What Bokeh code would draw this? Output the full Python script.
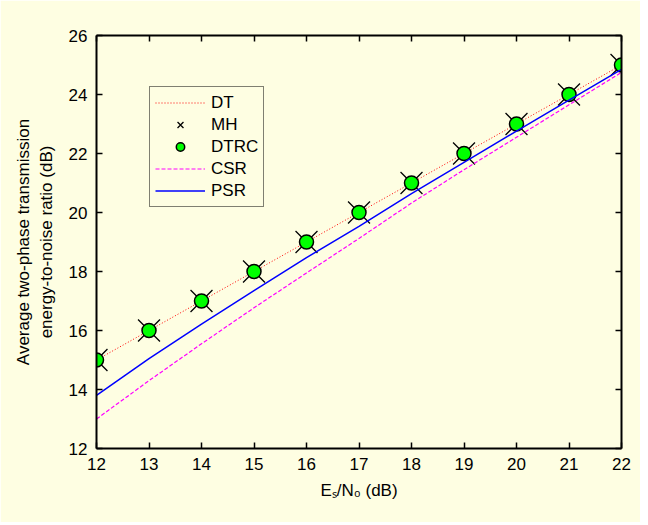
from bokeh.plotting import figure
from bokeh.models import Range1d, FixedTicker, LinearAxis, Legend, LegendItem
from bokeh.embed import file_html
from bokeh.resources import INLINE

# ---- data ----
es_n0_db = [12, 13, 14, 15, 16, 17, 18, 19, 20, 21, 22]
dt = [15, 16, 17, 18, 19, 20, 21, 22, 23, 24, 25]
mh = [15, 16, 17, 18, 19, 20, 21, 22, 23, 24, 25]
dtrc = [15, 16, 17, 18, 19, 20, 21, 22, 23, 24, 25]
csr = [13.0, 14.3, 15.55, 16.77, 17.95, 19.12, 20.32, 21.45, 22.55, 23.65, 24.75]
psr = [13.8, 15.05, 16.22, 17.35, 18.47, 19.53, 20.64, 21.70, 22.76, 23.81, 24.85]
x_ticks = [12, 13, 14, 15, 16, 17, 18, 19, 20, 21, 22]
y_ticks = [12, 14, 16, 18, 20, 22, 24, 26]

BG = "#FEFEE2"
FONT = "Liberation Sans"
FS = "17px"

p = figure(width=640, height=522, output_backend="svg", toolbar_location=None,
           x_range=Range1d(12, 22), y_range=Range1d(12, 26),
           min_border_left=96, min_border_right=19, min_border_top=35, min_border_bottom=74)
p.background_fill_color = BG
p.border_fill_color = BG
p.outline_line_color = None
p.grid.visible = False

# renderers
r_dt = p.line(es_n0_db, dt, line_color="#FF0000", line_width=1, line_dash="1 2")
r_mh = p.scatter(es_n0_db, mh, marker="x", size=31, line_color="black", line_width=1.3)
r_dtrc = p.scatter(es_n0_db, dtrc, marker="circle", size=14, fill_color="#00FF00",
                   line_color="black", line_width=1.5)
r_csr = p.line(es_n0_db, csr, line_color="#FF00FF", line_width=1.2, line_dash="4 2")
r_psr = p.line(es_n0_db, psr, line_color="#0000FF", line_width=1.5)

# axes
def style_axis(ax):
    ax.axis_line_width = 2
    ax.axis_line_color = "black"
    ax.major_tick_in = 6
    ax.major_tick_out = 0
    ax.major_tick_line_width = 1.5
    ax.minor_tick_line_color = None
    ax.major_label_text_font = FONT
    ax.major_label_text_font_size = FS
    ax.major_label_text_color = "black"
    ax.axis_label_text_font = FONT
    ax.axis_label_text_font_size = FS
    ax.axis_label_text_font_style = "normal"
    ax.axis_label_text_color = "black"

p.xaxis.ticker = FixedTicker(ticks=x_ticks)
p.yaxis.ticker = FixedTicker(ticks=y_ticks)
style_axis(p.xaxis[0])
style_axis(p.yaxis[0])
p.xaxis.major_label_standoff = 9
p.yaxis.major_label_standoff = 9
p.xaxis.axis_label = "E\u209b/N\u2080 (dB)"
p.yaxis.axis_label = "Average two-phase transmission\nenergy-to-noise ratio (dB)"
p.xaxis.axis_label_standoff = 8
p.yaxis.axis_label_standoff = 10

top = LinearAxis(ticker=FixedTicker(ticks=x_ticks),
                 major_label_overrides={t: "" for t in x_ticks})
right = LinearAxis(ticker=FixedTicker(ticks=y_ticks),
                   major_label_overrides={t: "" for t in y_ticks})
style_axis(top)
style_axis(right)
top.major_label_standoff = 0
right.major_label_standoff = 0
p.add_layout(top, "above")
p.add_layout(right, "right")

legend = Legend(items=[
    LegendItem(label="DT", renderers=[r_dt]),
    LegendItem(label="MH", renderers=[r_mh]),
    LegendItem(label="DTRC", renderers=[r_dtrc]),
    LegendItem(label="CSR", renderers=[r_csr]),
    LegendItem(label="PSR", renderers=[r_psr]),
], location=(53, 241))
legend.label_text_font = FONT
legend.label_text_font_size = FS
legend.label_text_color = "black"
legend.glyph_width = 50
legend.glyph_height = 21
legend.label_height = 21
legend.spacing = 1
legend.padding = 5
legend.label_standoff = 6
legend.border_line_color = "black"
legend.border_line_width = 1
legend.background_fill_color = BG
legend.background_fill_alpha = 1
p.add_layout(legend, "center")

open("out.html", "w").write(file_html(p, INLINE))
